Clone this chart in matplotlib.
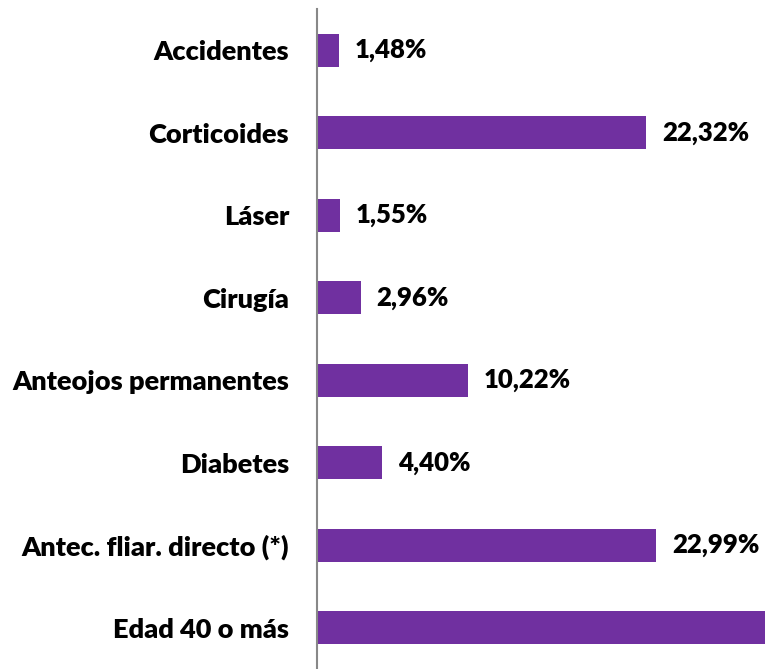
import matplotlib.pyplot as plt

categories = ["Accidentes", "Corticoides", "Láser", "Cirugía",
              "Anteojos permanentes", "Diabetes", "Antec. fliar. directo (*)",
              "Edad 40 o más"]
values = [1.48, 22.32, 1.55, 2.96, 10.22, 4.40, 22.99, 48.50]
labels = ["1,48%", "22,32%", "1,55%", "2,96%", "10,22%", "4,40%", "22,99%", "48,50%"]

plt.rcParams['font.family'] = ['Lato', 'DejaVu Sans']

fig = plt.figure(figsize=(7.65, 6.69), dpi=100)
ax = fig.add_axes([317 / 765, 0, 1 - 317 / 765, 660 / 669])

y = list(range(len(categories)))
ax.barh(y, values, height=0.4, color="#7030A0")
for yi, v, lab in zip(y, values, labels):
    ax.annotate(lab, (v, yi), xytext=(11.5, 0), textcoords="offset points",
                va="center", ha="left", fontsize=18.5, fontweight="heavy",
                annotation_clip=True)

ax.set_xlim(0, 30.4)
ax.set_ylim(7.5, -0.5)
ax.set_yticks(y)
ax.set_yticklabels(categories, fontsize=19.5, fontweight="heavy")
ax.tick_params(axis="y", length=0, pad=20)
ax.set_xticks([])
for s in ["top", "right", "bottom"]:
    ax.spines[s].set_visible(False)
ax.spines["left"].set_color("#888888")
ax.spines["left"].set_linewidth(1.5)

fig.savefig("out.png", dpi=100)
